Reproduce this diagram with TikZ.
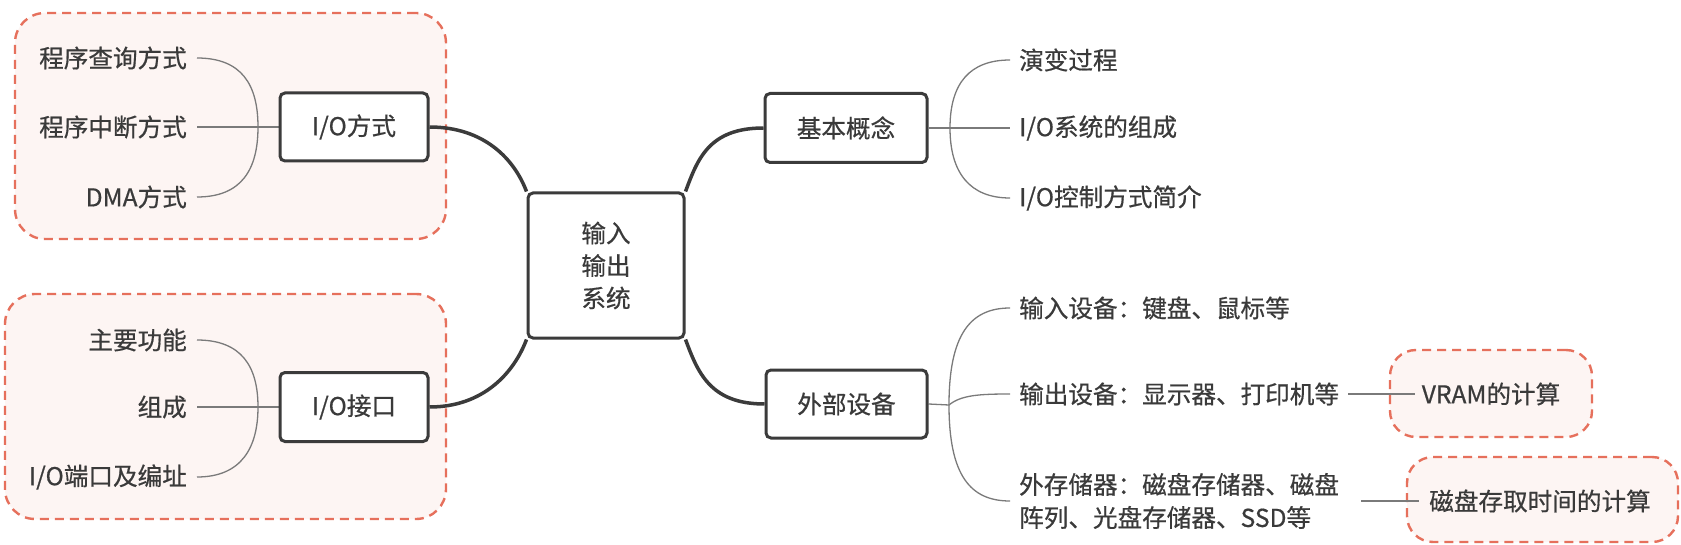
\documentclass[tikz,border=0pt]{standalone}
\usepackage{fontspec}
\setmainfont{Noto Sans CJK SC}[BoldFont={Noto Sans CJK SC}, BoldFeatures={FakeBold=0.6}]
\definecolor{boxcol}{HTML}{3B3B3B}
\definecolor{textcol}{HTML}{3A3A3A}
\definecolor{thincol}{HTML}{7A7A7A}
\definecolor{dashcol}{HTML}{E6705C}
\definecolor{grpfill}{HTML}{FDF5F3}
\pgfdeclarelayer{back}
\pgfdeclarelayer{links}
\pgfsetlayers{back,links,main}
\tikzset{
  grp/.style={draw=dashcol, fill=grpfill, line width=2.4pt, dash pattern=on 9pt off 6pt, rounded corners=30pt, inner sep=0pt},
  mainbox/.style={draw=boxcol, fill=white, line width=3pt, rounded corners=5pt, inner sep=0pt, minimum height=68pt, text=textcol},
  leafL/.style={anchor=east, inner xsep=10pt, inner ysep=0pt, text=textcol},
  leafR/.style={anchor=west, inner xsep=9pt, inner ysep=0pt, text=textcol},
  thinline/.style={draw=thincol, line width=1.3pt},
  mainline/.style={draw=boxcol, line width=3.5pt}
}
\begin{document}
\begin{tikzpicture}[x=1pt,y=-1pt, font=\fontsize{24.6}{33}\selectfont\bfseries]
\useasboundingbox (0,0) rectangle (1681,545);
\begin{pgfonlayer}{back}
\fill[white] (0,0) rectangle (1681,545);
\node[grp, minimum width=431pt, minimum height=226pt] (g1) at (230.5,126) {};
\node[grp, minimum width=441pt, minimum height=225pt] (g2) at (225.5,406.5) {};
\node[grp, minimum width=202pt, minimum height=87pt, rounded corners=26pt] (g3) at (1491,393.5) {};
\node[grp, minimum width=271pt, minimum height=85pt, rounded corners=26pt] (g4) at (1542.5,499.5) {};
\end{pgfonlayer}

% main boxes
\node[mainbox, minimum width=148pt] (iom) at (354,127) {I/O方式};
\node[mainbox, minimum width=148pt, minimum height=69pt] (ioi) at (354,407) {I/O接口};
\node[mainbox, minimum width=162pt, minimum height=69pt] (basic) at (846,128) {基本概念};
\node[mainbox, minimum width=161pt] (ext) at (846.5,404) {外部设备};
\node[mainbox, minimum width=156pt, minimum height=145pt, align=center, font=\fontsize{24.6}{32.5}\selectfont\bfseries] (core) at (606,265.5) {输入\\输出\\系统};

% left leaves
\node[leafL] (a1) at (197,58) {程序查询方式};
\node[leafL] (a2) at (197,127) {程序中断方式};
\node[leafL] (a3) at (197,197) {DMA方式};
\node[leafL] (d1) at (197,340) {主要功能};
\node[leafL] (d2) at (197,407) {组成};
\node[leafL] (d3) at (197,477) {I/O端口及编址};
\coordinate (ma) at (258,127);
\coordinate (md) at (258,407);

% right leaves
\node[leafR] (b1) at (1010,60) {演变过程};
\node[leafR] (b2) at (1010,128) {I/O系统的组成};
\node[leafR] (b3) at (1010,198) {I/O控制方式简介};
\coordinate (mb) at (950,128);

\node[leafR] (c1) at (1010,308) {输入设备：键盘、鼠标等};
\node[leafR] (c2) at (1010,394) {输出设备：显示器、打印机等};
\node[leafR, align=left] (c3) at (1010,501) {外存储器：磁盘存储器、磁盘\\阵列、光盘存储器、SSD等};
\coordinate (mc) at (949,405);

\node[inner xsep=7pt, inner ysep=0pt, text=textcol] (vram) at (1491,394) {VRAM的计算};
\node[inner xsep=10pt, inner ysep=0pt, text=textcol] (disk) at (1540,501) {磁盘存取时间的计算};

\begin{pgfonlayer}{links}
% left groups
\draw[thinline] (a1.east) .. controls +(45,0) and +(0,-42) .. (ma);
\draw[thinline] (a3.east) .. controls +(45,0) and +(0,42) .. (ma);
\draw[thinline] (a2.east) -- (iom.west);
\draw[thinline] (d1.east) .. controls +(45,0) and +(0,-40) .. (md);
\draw[thinline] (d3.east) .. controls +(45,0) and +(0,40) .. (md);
\draw[thinline] (d2.east) -- (ioi.west);
% right top
\draw[thinline] (basic.east) -- (b2.west);
\draw[thinline] (mb) .. controls +(0,-45) and +(-40,0) .. (b1.west);
\draw[thinline] (mb) .. controls +(0,45) and +(-40,0) .. (b3.west);
% right bottom
\draw[thinline] (ext.east) -- (mc);
\draw[thinline] (mc) .. controls +(0,-70) and +(-40,0) .. (c1.west);
\draw[thinline] (mc) .. controls +(12,-10) and +(-30,0) .. (c2.west);
\draw[thinline] (mc) .. controls +(0,70) and +(-40,0) .. (c3.west);
\draw[thinline] (c2.east) -- (vram.west);
\draw[thinline] ([xshift=13pt]c3.east) -- (disk.west);
% main connectors
\draw[mainline] (iom.east) .. controls +(55,0) and +(-12,-32) .. (core.north west);
\draw[mainline] (ioi.east) .. controls +(55,0) and +(-12,32) .. (core.south west);
\draw[mainline] (core.north east) .. controls +(12,-32) and +(-55,0) .. (basic.west);
\draw[mainline] (core.south east) .. controls +(12,32) and +(-55,0) .. (ext.west);
\end{pgfonlayer}
\end{tikzpicture}
\end{document}
